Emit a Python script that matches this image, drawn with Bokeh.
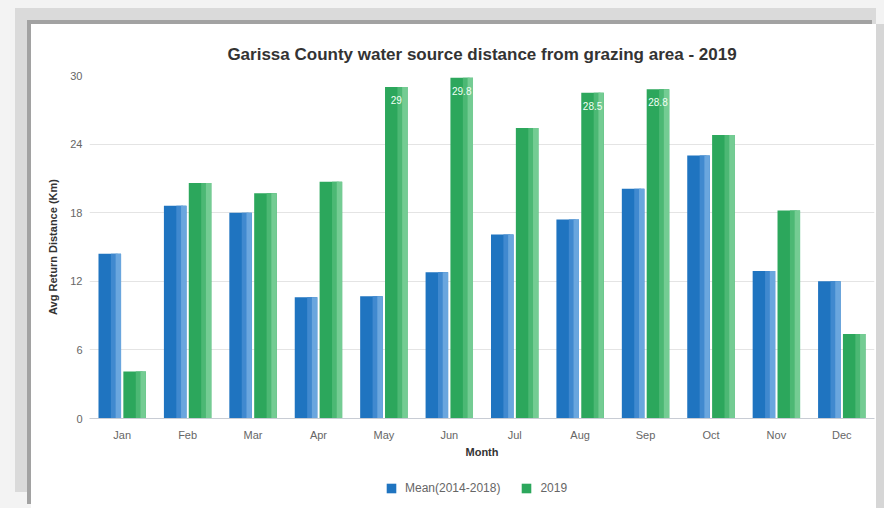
from bokeh.plotting import figure
from bokeh.models import (ColumnDataSource, FactorRange, Range1d, FixedTicker,
                          Legend, LegendItem)
from bokeh.core.properties import value
from bokeh.transform import dodge
from bokeh.layouts import column
from bokeh.embed import file_html
from bokeh.resources import INLINE

# Monthly average return distance to water sources (km)
months = ["Jan", "Feb", "Mar", "Apr", "May", "Jun",
          "Jul", "Aug", "Sep", "Oct", "Nov", "Dec"]
mean_2014_2018 = [14.4, 18.6, 18.0, 10.6, 10.7, 12.8, 16.1, 17.4, 20.1, 23.0, 12.9, 12.0]
year_2019 = [4.1, 20.6, 19.7, 20.7, 29.0, 29.8, 25.4, 28.5, 28.8, 24.8, 18.2, 7.4]
labelled_months = ["May", "Jun", "Aug", "Sep"]
y_ticks = [0, 6, 12, 18, 24, 30]
series_names = ["Mean(2014-2018)", "2019"]

FONT = "Liberation Sans"
BLUE = ("#1f74c0", "#4089cf", "#6aa6de")
GREEN = ("#2ca75c", "#4cb874", "#74cc93")

src = ColumnDataSource(dict(month=months, mean=mean_2014_2018, y2019=year_2019))

lab_idx = [i for i, m in enumerate(months) if m in labelled_months]
lab_src = ColumnDataSource(dict(
    month=[months[i] for i in lab_idx],
    val=[year_2019[i] for i in lab_idx],
    txt=[f"{year_2019[i]:g}" for i in lab_idx],
))

p = figure(
    x_range=FactorRange(*months), y_range=Range1d(0, 30),
    width=845, height=440,
    output_backend="svg", toolbar_location=None,
    min_border_left=58, min_border_right=2, min_border_top=51, min_border_bottom=46,
)

BAR_W = 0.345
OFF = 0.19


def shaded_bar(field, off, colors):
    """Column bar with a lighter right side, giving a soft gradient look."""
    base, mid, light = colors
    r = p.vbar(x=dodge("month", off, range=p.x_range), top=field, width=BAR_W,
               source=src, fill_color=base, line_color=None)
    p.vbar(x=dodge("month", off + BAR_W * 0.2, range=p.x_range), top=field,
           width=BAR_W * 0.3, source=src, fill_color=mid, line_color=None)
    p.vbar(x=dodge("month", off + BAR_W * 0.38, range=p.x_range), top=field,
           width=BAR_W * 0.24, source=src, fill_color=light, line_color=None)
    return r


shaded_bar("mean", -OFF, BLUE)
shaded_bar("y2019", OFF, GREEN)

# value labels inside the tallest 2019 bars
p.text(x=dodge("month", OFF, range=p.x_range), y="val", text="txt", source=lab_src,
       text_color="#f2fff6", text_font=value(FONT), text_font_size="10px",
       text_align="center", text_baseline="middle", y_offset=13)

# title
p.title.text = "Garissa County water source distance from grazing area - 2019"
p.title.align = "center"
p.title.text_font = FONT
p.title.text_font_size = "17px"
p.title.text_font_style = "bold"
p.title.text_color = "#333333"
p.title.standoff = 24

# axes
p.yaxis.ticker = FixedTicker(ticks=y_ticks)
p.yaxis.axis_line_color = None
p.yaxis.major_tick_line_color = None
p.yaxis.minor_tick_line_color = None
p.yaxis.major_tick_out = 0
p.yaxis.major_label_standoff = 7
p.yaxis.major_label_text_font = FONT
p.yaxis.major_label_text_font_size = "11px"
p.yaxis.major_label_text_color = "#666666"
p.yaxis.axis_label = "Avg Return Distance (Km)"
p.yaxis.axis_label_text_font = FONT
p.yaxis.axis_label_text_font_size = "11px"
p.yaxis.axis_label_text_font_style = "bold"
p.yaxis.axis_label_text_color = "#333333"
p.yaxis.axis_label_standoff = 8

p.xaxis.axis_line_color = "#c8ccd4"
p.xaxis.major_tick_line_color = None
p.xaxis.minor_tick_line_color = None
p.xaxis.major_tick_out = 0
p.xaxis.major_label_standoff = 10
p.xaxis.major_label_text_font = FONT
p.xaxis.major_label_text_font_size = "11px"
p.xaxis.major_label_text_color = "#666666"
p.xaxis.axis_label = "Month"
p.xaxis.axis_label_text_font = FONT
p.xaxis.axis_label_text_font_size = "11px"
p.xaxis.axis_label_text_font_style = "bold"
p.xaxis.axis_label_text_color = "#333333"
p.xaxis.axis_label_standoff = 2

p.xgrid.grid_line_color = None
p.ygrid.ticker = FixedTicker(ticks=y_ticks)
p.ygrid.grid_line_color = "#e4e4e4"
p.outline_line_color = None

# legend strip under the chart; its swatch renderers sit outside the visible range
leg = figure(width=845, height=44, x_range=Range1d(0, 1), y_range=Range1d(0, 1),
             x_axis_type=None, y_axis_type=None, output_backend="svg",
             toolbar_location=None, min_border=0)
leg.outline_line_color = None
items = []
for name, colors in zip(series_names, (BLUE, GREEN)):
    r = leg.vbar(x=[-5], top=[-5], bottom=[-6], width=0.1,
                 fill_color=colors[0], line_color=None)
    items.append(LegendItem(label=name, renderers=[r]))
legend = Legend(items=items, orientation="horizontal", location=(296, 13),
                border_line_color=None, background_fill_alpha=0,
                label_text_font=FONT, label_text_font_size="12px",
                label_text_color="#666666", glyph_width=12, glyph_height=12,
                label_standoff=8, spacing=20, padding=4, margin=0)
leg.add_layout(legend, "center")

card = column(p, leg, width=845, height=484)
card.margin = (24, 8, 0, 31)
# card frame around the chart, on a light grey page
card.styles = {"background-color": "white",
               "box-shadow": "-4px -4px 0 0 #a2a2a2, -16px -16px 0 0 #dadada, "
                             "0 -16px 0 0 #dadada, 8px 0 0 0 #d6d6d6, "
                             "0 0 0 60px #f3f3f3"}

open("out.html", "w").write(file_html(card, INLINE))
